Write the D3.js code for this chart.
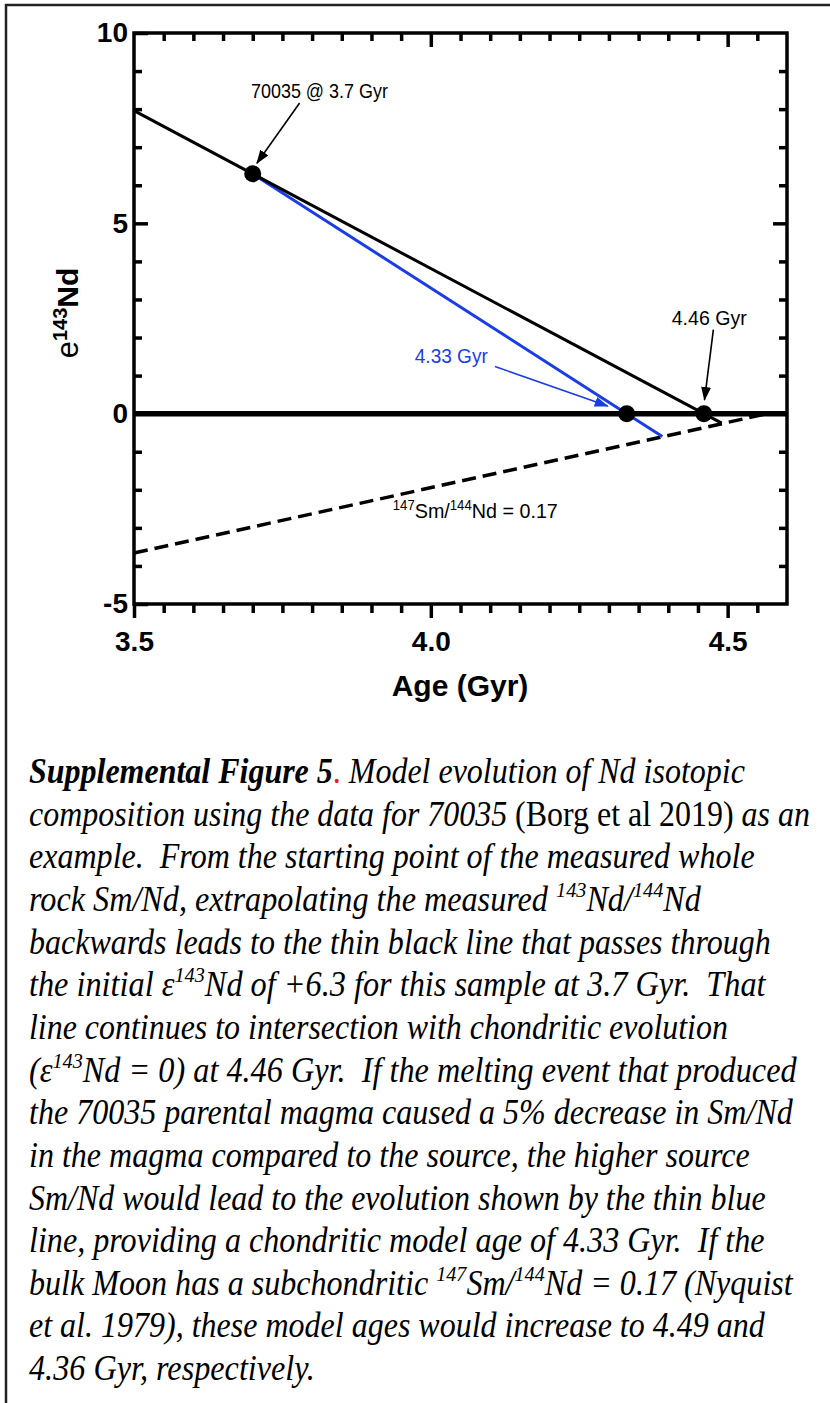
<!DOCTYPE html>
<html>
<head>
<meta charset="utf-8">
<script src="https://cdn.jsdelivr.net/npm/d3@7"></script>
<style>
  html, body { margin: 0; padding: 0; background: #fff; }
  svg { display: block; }
  text { white-space: pre; }
</style>
</head>
<body>
<script>
// ---- data ----
// Model evolution lines (age in Gyr, epsilon 143Nd)
const sampleLineAge = [3.5, 3.7, 4.46, 4.49];
const sampleLineEps = [7.96, 6.3, 0, -0.25];
const sourceLineAge = [3.7, 4.33, 4.39];
const sourceLineEps = [6.3, 0, -0.6];
const subchondriticAge = [3.5, 4.567];
const subchondriticEps = [-3.66, 0];
const chondriticAge = [3.5, 4.6];
const chondriticEps = [0, 0];
// Marked points: sample at 3.7 Gyr and the two model ages
const pointAge = [3.7, 4.33, 4.46];
const pointEps = [6.3, 0, 0];

// Axis ticks
const xTickValues = [3.5, 4.0, 4.5];
const xTickLabels = ["3.5", "4.0", "4.5"];
const yTickValues = [-5, 0, 5, 10];
const yTickLabels = ["-5", "0", "5", "10"];

// Caption, one entry per line: [text, style]
const captionLines = [
  [["Supplemental Figure 5", "bi"], [".", "red"], [" Model evolution of Nd isotopic", "i"]],
  [["composition using the data for 70035 ", "i"], ["(Borg et al 2019)", "n"], [" as an", "i"]],
  [["example.  From the starting point of the measured whole", "i"]],
  [["rock Sm/Nd, extrapolating the measured ", "i"], ["143", "sup"], ["Nd/", "i"], ["144", "sup"], ["Nd", "i"]],
  [["backwards leads to the thin black line that passes through", "i"]],
  [["the initial \u03b5", "i"], ["143", "sup"], ["Nd of +6.3 for this sample at 3.7 Gyr.  That", "i"]],
  [["line continues to intersection with chondritic evolution", "i"]],
  [["(\u03b5", "i"], ["143", "sup"], ["Nd = 0) at 4.46 Gyr.  If the melting event that produced", "i"]],
  [["the 70035 parental magma caused a 5% decrease in Sm/Nd", "i"]],
  [["in the magma compared to the source, the higher source", "i"]],
  [["Sm/Nd would lead to the evolution shown by the thin blue", "i"]],
  [["line, providing a chondritic model age of 4.33 Gyr.  If the", "i"]],
  [["bulk Moon has a subchondritic ", "i"], ["147", "sup"], ["Sm/", "i"], ["144", "sup"], ["Nd = 0.17 (Nyquist", "i"]],
  [["et al. 1979), these model ages would increase to 4.49 and", "i"]],
  [["4.36 Gyr, respectively.", "i"]]
];
// right edge of each caption line (layout)
const captionRight = [745, 810, 755, 701, 771, 766, 728, 797, 793, 750, 766, 765, 793, 765, 315];

// ---- layout ----
const W = 830, H = 1403;
const BLUE = "#1b3de6";
const SANS = "'Liberation Sans', Arial, sans-serif";
const SERIF = "'Liberation Serif', 'Times New Roman', serif";

const svg = d3.select("body").append("svg").attr("width", W).attr("height", H);
svg.append("rect").attr("width", W).attr("height", H).attr("fill", "#fff");

// page frame (top and left edges)
svg.append("path").attr("d", `M6,${H} V5 H${W}`)
  .attr("fill", "none").attr("stroke", "#222").attr("stroke-width", 2.5);

const x = d3.scaleLinear().domain([3.5, 4.6]).range([134, 787]);
const y = d3.scaleLinear().domain([-5, 10]).range([604, 33]);

const xMinor = d3.range(3.55, 4.575, 0.05).map(v => +v.toFixed(2)).filter(v => Math.abs(v - 4.0) > 1e-6 && Math.abs(v - 4.5) > 1e-6);
const yMinor = d3.range(-4, 10, 1).filter(v => v % 5 !== 0);

const defs = svg.append("defs");
function marker(id, color) {
  defs.append("marker").attr("id", id)
    .attr("viewBox", "0 -5 14 10").attr("refX", 13).attr("refY", 0)
    .attr("markerWidth", 14).attr("markerHeight", 10)
    .attr("markerUnits", "userSpaceOnUse").attr("orient", "auto")
    .append("path").attr("d", "M0,-5L14,0L0,5Z").attr("fill", color);
}
marker("arrBlack", "#000");
marker("arrBlue", BLUE);

const g = svg.append("g");

function styleAxis(sel, sw) {
  sel.select(".domain").remove();
  sel.selectAll(".tick line").attr("stroke", "#000").attr("stroke-width", sw);
}
function tickFont(sel) {
  sel.selectAll("text").attr("font-family", SANS).attr("font-weight", "bold")
    .attr("font-size", 28).attr("fill", "#000");
}

// bottom axis: outward ticks with labels
g.append("g").attr("transform", `translate(0,${y(-5)})`)
  .call(d3.axisBottom(x).tickValues(xMinor).tickSize(9).tickFormat(""))
  .call(s => styleAxis(s, 3.5));
g.append("g").attr("transform", `translate(0,${y(-5)})`)
  .call(d3.axisBottom(x).tickValues(xTickValues).tickSize(14).tickPadding(13)
    .tickFormat((d, i) => xTickLabels[i]))
  .call(s => styleAxis(s, 3.5))
  .call(tickFont);

// left axis: inward ticks with labels
g.append("g").attr("transform", `translate(${x(3.5)},0)`)
  .call(d3.axisLeft(y).tickValues(yMinor).tickSize(-8).tickFormat(""))
  .call(s => styleAxis(s, 3.5));
g.append("g").attr("transform", `translate(${x(3.5)},0)`)
  .call(d3.axisLeft(y).tickValues(yTickValues).tickSize(-14).tickPadding(6)
    .tickFormat((d, i) => yTickLabels[i]))
  .call(s => styleAxis(s, 3.5))
  .call(tickFont);

// top and right axes: inward ticks, no labels
g.append("g").attr("transform", `translate(0,${y(10)})`)
  .call(d3.axisTop(x).tickValues(xMinor).tickSize(-8).tickFormat(""))
  .call(s => styleAxis(s, 3.5));
g.append("g").attr("transform", `translate(0,${y(10)})`)
  .call(d3.axisTop(x).tickValues([4.0, 4.5]).tickSize(-14).tickFormat(""))
  .call(s => styleAxis(s, 3.5));
g.append("g").attr("transform", `translate(${x(4.6)},0)`)
  .call(d3.axisRight(y).tickValues(yMinor).tickSize(-8).tickFormat(""))
  .call(s => styleAxis(s, 3.5));
g.append("g").attr("transform", `translate(${x(4.6)},0)`)
  .call(d3.axisRight(y).tickValues([0, 5]).tickSize(-14).tickFormat(""))
  .call(s => styleAxis(s, 3.5));

// plot frame
g.append("rect").attr("x", x(3.5)).attr("y", y(10))
  .attr("width", x(4.6) - x(3.5)).attr("height", y(-5) - y(10))
  .attr("fill", "none").attr("stroke", "#000").attr("stroke-width", 3.5);

// series
const line = d3.line().x(d => x(d[0])).y(d => y(d[1]));
const zip = (a, b) => a.map((v, i) => [v, b[i]]);

g.append("path").datum(zip(chondriticAge, chondriticEps)).attr("d", line)
  .attr("fill", "none").attr("stroke", "#000").attr("stroke-width", 5.5);
g.append("path").datum(zip(subchondriticAge, subchondriticEps)).attr("d", line)
  .attr("fill", "none").attr("stroke", "#000").attr("stroke-width", 3.5)
  .attr("stroke-dasharray", "14,7");
g.append("path").datum(zip(sourceLineAge, sourceLineEps)).attr("d", line)
  .attr("fill", "none").attr("stroke", BLUE).attr("stroke-width", 3);
g.append("path").datum(zip(sampleLineAge, sampleLineEps)).attr("d", line)
  .attr("fill", "none").attr("stroke", "#000").attr("stroke-width", 3);

g.selectAll("circle.pt").data(zip(pointAge, pointEps)).join("circle")
  .attr("class", "pt").attr("cx", d => x(d[0])).attr("cy", d => y(d[1]))
  .attr("r", 8.5).attr("fill", "#000");

// annotations
function arrow(a0, e0, a1, e1, color, id) {
  g.append("line").attr("x1", x(a0)).attr("y1", y(e0)).attr("x2", x(a1)).attr("y2", y(e1))
    .attr("stroke", color).attr("stroke-width", 1.6).attr("marker-end", `url(#${id})`);
}
function label(txt, a, e, color, width, anchor) {
  return g.append("text").attr("x", x(a)).attr("y", y(e))
    .attr("font-family", SANS).attr("font-size", 21).attr("fill", color)
    .attr("text-anchor", anchor || "start")
    .attr("textLength", width).attr("lengthAdjust", "spacingAndGlyphs")
    .text(txt);
}
label("70035 @ 3.7 Gyr", 3.697, 8.29, "#000", 137);
arrow(3.779, 8.16, 3.707, 6.58, "#000", "arrBlack");

label("4.46 Gyr", 4.469, 2.32, "#000", 75, "middle");
arrow(4.476, 2.21, 4.461, 0.36, "#000", "arrBlack");

label("4.33 Gyr", 3.973, 1.32, BLUE, 73);
arrow(4.108, 1.24, 4.298, 0.2, BLUE, "arrBlue");

const smLabel = g.append("text").attr("x", x(3.936)).attr("y", y(-2.74))
  .attr("font-family", SANS).attr("font-size", 21).attr("fill", "#000")
  .attr("textLength", 165).attr("lengthAdjust", "spacingAndGlyphs");
smLabel.append("tspan").attr("font-size", 14).attr("dy", -8).text("147");
smLabel.append("tspan").attr("dy", 8).text("Sm/");
smLabel.append("tspan").attr("font-size", 14).attr("dy", -8).text("144");
smLabel.append("tspan").attr("dy", 8).text("Nd = 0.17");

// axis titles
svg.append("text").attr("x", 460).attr("y", 696).attr("text-anchor", "middle")
  .attr("font-family", SANS).attr("font-weight", "bold").attr("font-size", 30)
  .text("Age (Gyr)");

const yTitle = svg.append("text").attr("transform", "translate(78,313) rotate(-90)")
  .attr("text-anchor", "middle").attr("font-family", SANS).attr("fill", "#000");
yTitle.append("tspan").attr("font-size", 31).text("e");
yTitle.append("tspan").attr("font-size", 20).attr("font-weight", "bold").attr("dy", -11).text("143");
yTitle.append("tspan").attr("font-size", 30).attr("font-weight", "bold").attr("dy", 11).text("Nd");

// caption
const capLeft = 29, capTop = 783, capStep = 42.65;
captionLines.forEach((segs, i) => {
  const t = svg.append("text")
    .attr("font-family", SERIF).attr("font-size", 35).attr("fill", "#000");
  let raised = false;
  segs.forEach(([txt, st]) => {
    const ts = t.append("tspan").text(txt);
    if (st === "sup") {
      ts.attr("font-size", 22).attr("font-style", "italic").attr("dy", -14);
      raised = true;
    } else {
      if (raised) { ts.attr("dy", 14); raised = false; }
      if (st === "i") ts.attr("font-style", "italic");
      if (st === "bi") ts.attr("font-style", "italic").attr("font-weight", "bold");
      if (st === "red") ts.attr("fill", "#e0201b");
    }
  });
  const w = t.node().getComputedTextLength();
  const sx = (captionRight[i] - capLeft) / w;
  t.attr("transform", `translate(${capLeft},${capTop + i * capStep}) scale(${sx},1)`);
});
</script>
</body>
</html>
